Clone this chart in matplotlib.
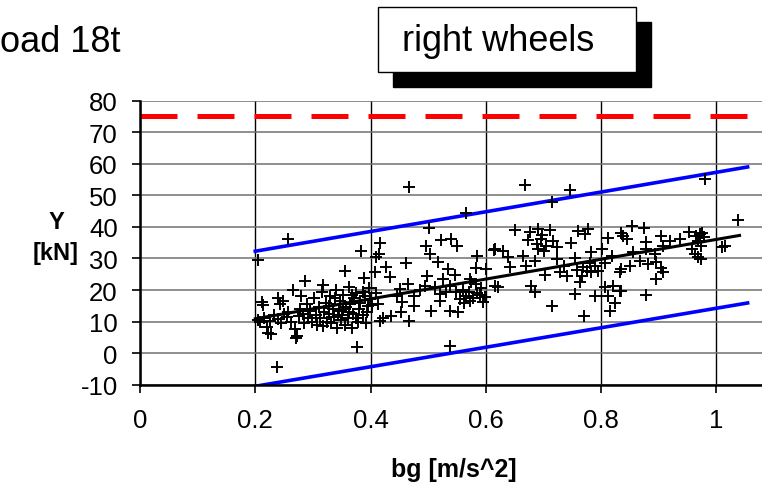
import matplotlib
matplotlib.use("Agg")
import matplotlib.pyplot as plt
from matplotlib.patches import Rectangle

plt.rcParams['font.family'] = ['Liberation Sans', 'DejaVu Sans']
plt.rcParams['axes.unicode_minus'] = False

# measured points: braking deceleration bg [m/s^2] vs lateral force Y [kN]
bg = [
    0.204, 0.211, 0.213, 0.205, 0.208, 0.215, 0.220, 0.222, 0.228, 0.225, 0.232, 0.237,
    0.240, 0.243, 0.240, 0.245, 0.248, 0.250, 0.257, 0.257, 0.255, 0.262, 0.266, 0.269,
    0.272, 0.270, 0.275, 0.278, 0.280, 0.283, 0.287, 0.285, 0.290, 0.292, 0.295, 0.298,
    0.302, 0.305, 0.307, 0.310, 0.312, 0.315, 0.318, 0.320, 0.322, 0.325, 0.327, 0.330,
    0.332, 0.335, 0.337, 0.340, 0.342, 0.345, 0.347, 0.348, 0.350, 0.355, 0.352, 0.355,
    0.358, 0.360, 0.362, 0.365, 0.367, 0.370, 0.372, 0.375, 0.376, 0.378, 0.380, 0.382,
    0.384, 0.388, 0.386, 0.390, 0.392, 0.395, 0.398, 0.399, 0.402, 0.318, 0.328, 0.338,
    0.344, 0.352, 0.363, 0.368, 0.374, 0.386, 0.393,
    0.467, 0.565, 0.502, 0.417, 0.496, 0.523, 0.540, 0.550, 0.614, 0.503, 0.410, 0.414,
    0.585, 0.462, 0.517, 0.426, 0.407, 0.535, 0.583, 0.601, 0.433, 0.497, 0.546, 0.526,
    0.572, 0.451, 0.494, 0.538, 0.583, 0.616, 0.410, 0.476, 0.520, 0.549, 0.566, 0.589,
    0.413, 0.455, 0.476, 0.520, 0.555, 0.572, 0.595, 0.453, 0.505, 0.538, 0.552, 0.422,
    0.436, 0.416, 0.467, 0.538, 0.560, 0.570, 0.578, 0.585, 0.592, 0.598, 0.575, 0.562,
    0.485, 0.512, 0.530, 0.465, 0.445,
    0.668, 0.746, 0.715, 0.650, 0.676, 0.691, 0.711, 0.673, 0.695, 0.717, 0.748, 0.760,
    0.772, 0.777, 0.812, 0.835, 0.616, 0.630, 0.691, 0.700, 0.723, 0.801, 0.639, 0.665,
    0.685, 0.723, 0.754, 0.783, 0.818, 0.835, 0.642, 0.670, 0.736, 0.769, 0.789, 0.806,
    0.702, 0.728, 0.740, 0.766, 0.783, 0.763, 0.621, 0.679, 0.685, 0.754, 0.789, 0.806,
    0.821, 0.832, 0.714, 0.770, 0.815, 0.824, 0.812, 0.688, 0.705, 0.698, 0.775, 0.780,
    0.795, 0.758,
    0.980, 1.037, 0.853, 0.874, 0.838, 0.844, 0.904, 0.919, 0.936, 0.953, 0.971, 0.979,
    0.968, 0.974, 0.878, 0.907, 0.855, 0.878, 0.893, 0.962, 0.968, 0.974, 1.009, 1.015,
    0.867, 0.881, 0.895, 0.850, 0.904, 0.907, 0.832, 0.895, 0.835, 0.878, 0.965, 0.975,
    0.958,
]
force = [
    29.6, 16.1, 15.2, 10.5, 9.8, 11.0, 8.2, 6.5, 6.1, 10.2, 12.0, -4.5,
    17.4, 15.5, 10.8, 9.5, 16.6, 12.5, 36.2, 13.0, 11.5, 10.0, 20.0, 7.7,
    5.5, 4.8, 11.8, 14.0, 18.0, 12.5, 22.9, 9.5, 15.5, 11.0, 13.5, 10.0,
    17.5, 12.0, 9.0, 14.5, 11.0, 19.5, 8.5, 13.0, 16.0, 10.0, 12.5, 18.0,
    9.5, 14.0, 11.5, 20.0, 8.0, 13.5, 16.5, 10.5, 12.0, 26.1, 18.5, 9.0,
    14.5, 11.0, 21.0, 15.5, 8.0, 12.5, 17.5, 19.0, 1.9, 10.0, 14.0, 16.0,
    32.5, 23.7, 12.0, 18.0, 9.5, 15.0, 20.5, 17.2, 15.1, 21.5, 15.0, 17.5,
    12.0, 14.0, 13.0, 18.5, 11.0, 19.5, 13.0,
    52.6, 44.4, 39.6, 34.9, 34.1, 36.0, 36.2, 33.9, 32.7, 31.4, 30.4, 31.5,
    30.7, 28.6, 28.8, 27.2, 25.6, 26.7, 26.9, 26.7, 24.0, 24.5, 24.8, 23.5,
    23.5, 20.3, 21.4, 21.4, 21.9, 21.4, 19.1, 18.2, 18.8, 19.3, 18.2, 18.4,
    15.6, 16.1, 14.9, 16.6, 17.2, 16.6, 16.1, 12.9, 13.5, 13.5, 13.1, 11.1,
    11.9, 10.3, 10.3, 2.4, 20.0, 19.5, 17.5, 19.0, 20.5, 17.8, 22.5, 16.0,
    20.0, 21.0, 19.5, 22.0, 18.0,
    53.3, 51.8, 47.8, 39.1, 38.3, 39.3, 39.1, 36.0, 36.2, 35.6, 34.9, 38.8,
    37.8, 39.3, 36.4, 38.1, 33.0, 32.5, 33.0, 32.5, 33.5, 33.0, 30.4, 30.7,
    29.3, 29.8, 30.1, 32.0, 30.7, 26.7, 27.2, 27.7, 27.7, 27.2, 27.7, 28.6,
    24.8, 25.6, 24.4, 24.5, 25.6, 22.5, 20.9, 21.4, 19.5, 18.8, 18.2, 20.9,
    21.4, 19.8, 15.0, 11.9, 13.5, 15.9, 18.2, 34.5, 34.0, 37.5, 26.0, 28.5,
    26.0, 26.5,
    55.2, 42.3, 40.2, 39.6, 37.2, 36.2, 37.0, 35.6, 36.2, 38.5, 37.8, 36.7,
    35.6, 34.1, 35.1, 33.9, 32.2, 33.0, 31.4, 31.4, 30.4, 29.9, 33.5, 33.8,
    29.3, 28.3, 28.8, 27.5, 26.9, 25.6, 25.6, 23.5, 19.8, 18.4, 37.0, 38.0,
    33.0,
]

# regression line and band limits (end points)
fit_x = [0.2, 1.04]
fit_y = [10.9, 37.3]
band_x = [0.2, 1.054]
upper_y = [32.3, 59.0]
lower_y = [-10.5, 15.9]
limit_y = 75

x_ticks = [0, 0.2, 0.4, 0.6, 0.8, 1]
x_tick_labels = ['0', '0.2', '0.4', '0.6', '0.8', '1']
y_ticks = [-10, 0, 10, 20, 30, 40, 50, 60, 70, 80]

fig = plt.figure(figsize=(7.62, 4.89), dpi=100)
ax = fig.add_axes([140 / 762, 1 - 385.7 / 489, 622 / 762, 284 / 489])

ax.set_xlim(0, 1.079)
ax.set_ylim(-10, 80)
ax.set_xticks(x_ticks)
ax.set_xticklabels(x_tick_labels)
ax.set_yticks(y_ticks)

ax.grid(axis='y', color='#707070', lw=1.1, zorder=0)
ax.grid(axis='x', color='black', lw=1.0, zorder=0)
ax.set_axisbelow(True)

for side in ['top', 'right']:
    ax.spines[side].set_visible(False)
for side in ['left', 'bottom']:
    ax.spines[side].set_linewidth(1.8)
    ax.spines[side].set_zorder(5)

ax.tick_params(axis='both', direction='out', length=6, width=1.2, labelsize=18.5)
ax.tick_params(axis='x', pad=11)
ax.tick_params(axis='y', pad=10)

ax.axhline(limit_y, color='#ff0000', lw=3.6, dashes=(7.4, 4), zorder=3)
ax.plot(band_x, upper_y, color='#0000ff', lw=2.6, zorder=3)
ax.plot(band_x, lower_y, color='#0000ff', lw=2.6, zorder=3)
ax.plot(bg, force, linestyle='none', marker='+', ms=8.5, mew=1.4, color='black', zorder=4)
ax.plot(fit_x, fit_y, color='black', lw=2.2, zorder=4)

fig.text(56 / 762, 1 - 238 / 489, 'Y\n[kN]', ha='center', va='center',
         fontsize=17, fontweight='bold', linespacing=1.45)
fig.text(454 / 762, 1 - 470 / 489, 'bg [m/s^2]', ha='center', va='center',
         fontsize=18, fontweight='bold')

# title (cut off on the left in the original) and the boxed label with shadow
fig.text(0.0, 1 - 52 / 489, 'oad 18t', ha='left', va='baseline', fontsize=26)

fig.patches.append(Rectangle((393 / 762, 1 - 88 / 489), 258 / 762, 65 / 489,
                             transform=fig.transFigure, facecolor='black',
                             edgecolor='black', zorder=1))
fig.patches.append(Rectangle((378 / 762, 1 - 73 / 489), 258 / 762, 65 / 489,
                             transform=fig.transFigure, facecolor='white',
                             edgecolor='black', lw=1.0, zorder=2))
fig.text(498 / 762, 1 - 42 / 489, 'right wheels', ha='center', va='center',
         fontsize=26, zorder=3)

fig.savefig('out.png', dpi=100)
